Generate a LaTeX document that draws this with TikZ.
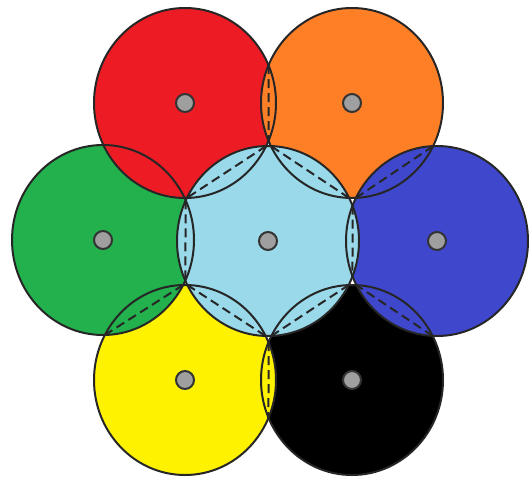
\documentclass[tikz,border=0pt]{standalone}
\usepackage{xcolor}
\usetikzlibrary{intersections}
\definecolor{discred}{RGB}{237,28,36}
\definecolor{discorange}{RGB}{255,127,39}
\definecolor{discgreen}{RGB}{34,177,76}
\definecolor{discblue}{RGB}{63,72,204}
\definecolor{discyellow}{RGB}{255,242,0}
\definecolor{discblack}{RGB}{0,0,0}
\definecolor{disccyan}{RGB}{153,217,234}
\tikzset{
  disc/.style={fill=#1, draw=none},
  rim/.style={draw=black!85, line width=2pt},
  chord/.style={draw=black!85, line width=2pt, dash pattern=on 9pt off 5pt},
  hub/.style={circle, fill=gray!75, draw=black!80, line width=2pt, minimum size=18pt, inner sep=0pt}
}

\begin{document}
\begin{tikzpicture}[x=1pt, y=-1pt]
  \useasboundingbox (0,0) rectangle (529,479);
  % centres
  \coordinate (C) at (268,241);
  \coordinate (R) at (185,103);
  \coordinate (O) at (352,103);
  \coordinate (G) at (103,240);
  \coordinate (B) at (437,241);
  \coordinate (Y) at (185,380);
  \coordinate (K) at (352,380);
  % discs, back to front
  \foreach \c/\col in {K/discblack, Y/discyellow, G/discgreen, R/discred, O/discorange, B/discblue, C/disccyan}
    \path[disc=\col, name path global=\c] (\c) ellipse [x radius=91pt, y radius=95pt];
  % outlines
  \foreach \c in {K,Y,G,R,O,B,C}
    \draw[rim] (\c) ellipse [x radius=91pt, y radius=95pt];
  % common chords
  \foreach \a/\b in {R/O, R/C, O/C, O/B, B/C, B/K, K/C, Y/K, Y/C, G/Y, G/C} {
    \path[name intersections={of={\a} and {\b}, name=x}];
    \draw[chord] (x-1) -- (x-2);
  }
  % hubs
  \foreach \c in {C,R,O,G,B,Y,K}
    \node[hub] (h\c) at (\c) {};
\end{tikzpicture}
\end{document}
